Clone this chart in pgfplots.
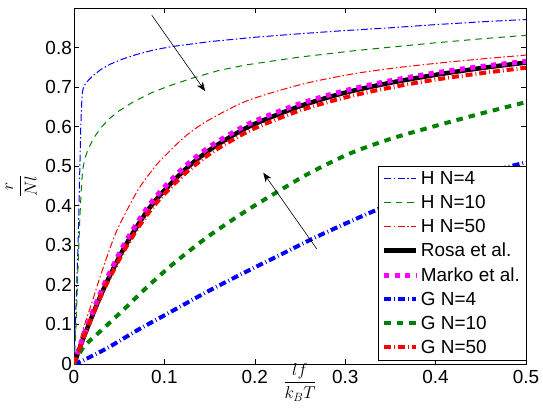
\documentclass[border=0pt]{standalone}
\usepackage{fontspec}
\setmainfont{Liberation Sans}
\usepackage{pgfplots}
\pgfplotsset{compat=1.18}
\usetikzlibrary{arrows.meta}

\definecolor{mblue}{rgb}{0,0,1}
\definecolor{mgreen}{rgb}{0,0.5,0}
\definecolor{mred}{rgb}{1,0,0}
\definecolor{mmag}{rgb}{1,0,1}

\pgfplotsset{
  legend image code/.code={\draw[#1] (0bp,0bp) -- (32bp,0bp);},
}

\begin{document}
\begin{tikzpicture}
\begin{axis}[
  scale only axis,
  width=452bp, height=356bp,
  xmin=0, xmax=0.5, ymin=0, ymax=0.9,
  xtick={0,0.1,0.2,0.3,0.4,0.5},
  ytick={0,0.1,0.2,0.3,0.4,0.5,0.6,0.7,0.8},
  tick align=inside, tick pos=both,
  major tick length=5bp,
  axis line style={line width=0.8bp},
  every tick/.style={black, line width=0.6bp},
  /pgf/number format/assume math mode=true,
  /pgf/number format/fixed,
  ticklabel style={font=\fontsize{19}{21}\selectfont},
  xticklabel style={inner sep=0pt, yshift=-6bp},
  yticklabel style={inner sep=0pt, xshift=-2bp},
  xlabel={$\displaystyle\frac{lf}{k_BT}$},
  ylabel={$\displaystyle\frac{r}{Nl}$},
  label style={font=\fontsize{18}{20}\selectfont},
  xlabel style={at={(axis description cs:0.5,0)}, anchor=north, inner sep=0pt, yshift=1bp},
  ylabel style={at={(axis description cs:-0.117,0.5)}, anchor=center, inner sep=0pt},
  legend style={at={(rel axis cs:1,0)}, anchor=south east, yshift=4bp,
    draw, fill=white,
    font=\fontsize{19}{21}\selectfont,
    inner xsep=4bp, inner ysep=3bp, row sep=5.3bp},
  legend cell align=left,
  every legend entry/.append style={inner sep=1bp, text height=13bp, text depth=4bp},
]

% H model, N = 4
\addplot[draw=mblue, line width=1bp, dash pattern=on 7bp off 2.5bp on 1.5bp off 2.5bp] coordinates {
 (0,0) (0.0015,0.1) (0.003,0.2) (0.0045,0.3) (0.0055,0.4) (0.0065,0.5) (0.0075,0.6)
 (0.0085,0.66) (0.0095,0.69) (0.011,0.703) (0.015,0.715) (0.02,0.727) (0.03,0.745)
 (0.04,0.758) (0.055,0.772) (0.07,0.783) (0.09,0.795) (0.11,0.803) (0.15,0.815)
 (0.2,0.826) (0.25,0.835) (0.3,0.843) (0.35,0.85) (0.4,0.858) (0.45,0.865) (0.5,0.871)};

% H model, N = 10
\addplot[draw=mgreen, line width=1bp, dash pattern=on 6.5bp off 5bp] coordinates {
 (0,0) (0.002,0.08) (0.0035,0.18) (0.005,0.28) (0.0065,0.37) (0.008,0.44) (0.0095,0.49)
 (0.012,0.52) (0.016,0.545) (0.022,0.572) (0.03,0.598) (0.04,0.622) (0.05,0.64)
 (0.065,0.662) (0.085,0.685) (0.105,0.703) (0.13,0.722) (0.16,0.742) (0.19,0.756)
 (0.25,0.776) (0.31,0.792) (0.35,0.801) (0.4,0.812) (0.45,0.822) (0.5,0.831)};

% H model, N = 50
\addplot[draw=mred, line width=1bp, smooth, tension=0.5, dash pattern=on 7bp off 2.5bp on 1.5bp off 2.5bp] coordinates {
 (0,0) (0.004,0.035) (0.009,0.08) (0.02,0.157) (0.031,0.235) (0.046,0.33) (0.06,0.395)
 (0.073,0.448) (0.09,0.5) (0.1,0.525) (0.117,0.563) (0.13,0.588) (0.15,0.618)
 (0.191,0.665) (0.25,0.706) (0.305,0.732) (0.35,0.747) (0.4,0.76) (0.45,0.771) (0.5,0.781)};

% Rosa et al.
\addplot[draw=black, line width=4.5bp, smooth, tension=0.5] coordinates {
 (0,0) (0.005,0.032) (0.01,0.063) (0.016,0.098) (0.025,0.149) (0.034,0.196) (0.045,0.248)
 (0.056,0.296) (0.07,0.349) (0.084,0.396) (0.1,0.439) (0.125,0.496) (0.15,0.541)
 (0.175,0.577) (0.2,0.607) (0.25,0.652) (0.3,0.686) (0.35,0.711) (0.4,0.731)
 (0.45,0.748) (0.5,0.762)};

% Marko et al.
\addplot[draw=mmag, line width=5bp, smooth, tension=0.5, dash pattern=on 5bp off 5.5bp] coordinates {
 (0,0) (0.005,0.035) (0.01,0.068) (0.016,0.104) (0.025,0.156) (0.034,0.204) (0.045,0.256)
 (0.056,0.304) (0.07,0.357) (0.084,0.404) (0.1,0.447) (0.125,0.504) (0.15,0.549)
 (0.175,0.584) (0.2,0.614) (0.25,0.658) (0.3,0.691) (0.35,0.716) (0.4,0.736)
 (0.45,0.752) (0.5,0.765)};

% G model, N = 4
\addplot[draw=mblue, line width=4bp, smooth, tension=0.5, dash pattern=on 7bp off 3bp on 0.8bp off 3bp] coordinates {
 (0,0) (0.01,0.009) (0.035,0.038) (0.05,0.058) (0.072,0.088) (0.1,0.123) (0.119,0.147)
 (0.15,0.186) (0.191,0.234) (0.23,0.278) (0.265,0.318) (0.313,0.368) (0.35,0.404)
 (0.4,0.446) (0.45,0.48) (0.5,0.51)};

% G model, N = 10
\addplot[draw=mgreen, line width=4bp, smooth, tension=0.5, dash pattern=on 6.5bp off 6bp] coordinates {
 (0,0) (0.005,0.022) (0.0125,0.048) (0.035,0.095) (0.057,0.142) (0.075,0.182) (0.097,0.228)
 (0.116,0.265) (0.15,0.325) (0.191,0.388) (0.23,0.442) (0.26,0.482) (0.305,0.532)
 (0.35,0.569) (0.4,0.602) (0.45,0.633) (0.5,0.662)};

% G model, N = 50
\addplot[draw=mred, line width=4bp, smooth, tension=0.5, dash pattern=on 7bp off 3bp on 0.8bp off 3bp] coordinates {
 (0,0) (0.005,0.032) (0.01,0.063) (0.016,0.097) (0.025,0.146) (0.034,0.193) (0.045,0.242)
 (0.056,0.289) (0.07,0.341) (0.084,0.387) (0.1,0.43) (0.125,0.486) (0.15,0.531)
 (0.175,0.566) (0.2,0.596) (0.25,0.641) (0.3,0.674) (0.35,0.699) (0.4,0.719)
 (0.45,0.735) (0.5,0.749)};

\legend{H N=4, H N=10, H N=50, Rosa et al., Marko et al., G N=4, G N=10, G N=50}

% trend arrows
\draw[black, line width=0.6bp, -{Stealth[length=9bp, width=7bp, inset=2.5bp]}]
  (axis cs:0.086,0.882) -- (axis cs:0.145,0.69);
\draw[black, line width=0.6bp, -{Stealth[length=9bp, width=7bp, inset=2.5bp]}]
  (axis cs:0.2685,0.291) -- (axis cs:0.2094,0.4835);
\end{axis}
\pgfresetboundingbox
\path ([shift={(-74bp,-47bp)}]current axis.south west) rectangle ([shift={(17bp,8bp)}]current axis.north east);
\end{tikzpicture}
\end{document}
